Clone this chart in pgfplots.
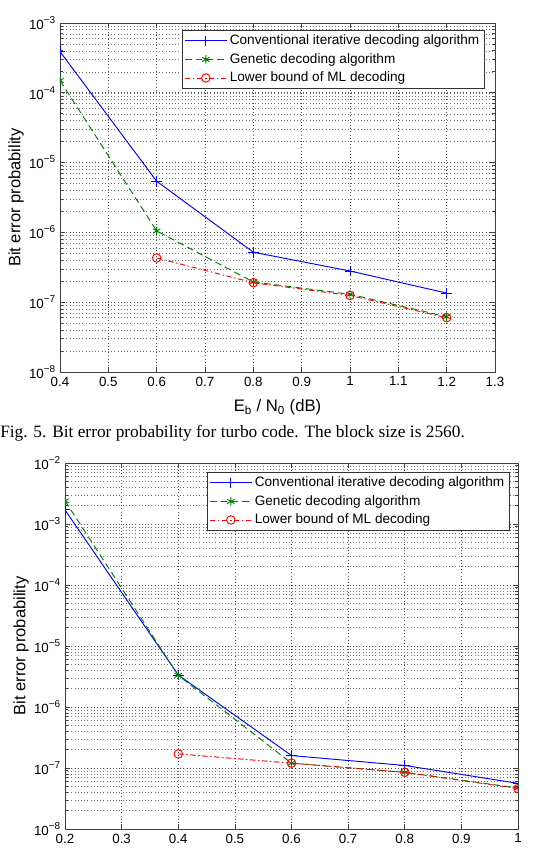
\documentclass[border=0pt]{standalone}
\usepackage{pgfplots}
\pgfplotsset{compat=1.18}
\usepackage{fontspec}
\setmainfont{Liberation Sans}
\newfontfamily\capfont{Liberation Serif}

\definecolor{mblue}{rgb}{0,0,1}
\definecolor{mgreen}{rgb}{0,0.5,0}
\definecolor{mred}{rgb}{1,0,0}

\newcommand{\dexp}[1]{10\raisebox{0.45em}{\fontsize{7.5}{8}\selectfont #1}}

\pgfplotsset{
  berstyle/.style={
    scale only axis,
    anchor=south west,
    clip marker paths=true,
    axis line style={black!75, line width=0.6pt},
    tick style={black!75, line width=0.5pt},
    major tick length=4pt,
    minor tick length=2pt,
    tick align=inside,
    xmajorgrids, ymajorgrids, yminorgrids,
    major grid style={black!70, dotted, line width=0.5pt},
    minor grid style={black!55, dotted, line width=0.4pt},
    tick label style={font=\fontsize{10}{11}\selectfont},
    ylabel style={font=\fontsize{12.4}{14}\selectfont, yshift=-3pt},
    xlabel style={font=\fontsize{12.5}{14}\selectfont, yshift=-3pt},
    ylabel={Bit error probability},
    xlabel={E\textsubscript{b} / N\textsubscript{0} (dB)},
    legend cell align=left,
    legend style={font=\fontsize{10.2}{12}\selectfont, draw=black!80, fill=white,
      line width=0.5pt, inner xsep=2pt, inner ysep=1.5pt, row sep=1pt,
      at={(1,1)}, anchor=north east},
    legend image code/.code={
      \draw[mark repeat=2,mark phase=2] plot coordinates {(0cm,0cm) (0.55cm,0cm) (1.1cm,0cm)};
    },
  },
  conv/.style={mblue, line width=0.7pt, mark=+, mark size=4pt, mark options={solid, line width=0.7pt}},
  gen/.style={mgreen, line width=0.7pt, dash pattern=on 5pt off 3pt, mark=asterisk, mark size=3.2pt, mark options={solid, line width=0.7pt}},
  lowb/.style={mred, line width=0.7pt, dash pattern=on 4pt off 2pt on 1pt off 2pt, mark=o, mark size=3.2pt, mark options={solid, line width=0.7pt}},
}

\begin{document}
\begin{tikzpicture}
% upper panel: block size 2560
\begin{semilogyaxis}[berstyle,
  at={(45pt,361.5pt)},
  width=326.25pt, height=261.75pt,
  xmin=0.4, xmax=1.3, ymin=1e-8, ymax=1e-3,
  xtick={0.4,0.5,0.6,0.7,0.8,0.9,1.0,1.1,1.2,1.3},
  xticklabels={0.4,0.5,0.6,0.7,0.8,0.9,1,1.1,1.2,1.3},
  ytick={1e-8,1e-7,1e-6,1e-5,1e-4,1e-3},
  yticklabels={\dexp{−8},\dexp{−7},\dexp{−6},\dexp{−5},\dexp{−4},\dexp{−3}},
  legend style={xshift=-7.5pt, yshift=-5.25pt},
]
\addplot[conv] coordinates {(0.4,3.9e-4) (0.6,5.4e-6) (0.8,5.2e-7) (1.0,2.8e-7) (1.2,1.35e-7)};
\addlegendentry{Conventional iterative decoding algorithm}
\addplot[gen] coordinates {(0.4,1.5e-4) (0.6,1.05e-6) (0.8,1.95e-7) (1.0,1.3e-7) (1.2,6.2e-8)};
\addlegendentry{Genetic decoding algorithm}
\addplot[lowb] coordinates {(0.6,4.3e-7) (0.8,1.9e-7) (1.0,1.25e-7) (1.2,6.0e-8)};
\addlegendentry{Lower bound of ML decoding}
\end{semilogyaxis}

\node[anchor=west, inner sep=0pt, font=\capfont\fontsize{13}{15}\selectfont] at (0pt,315.75pt)
  {Fig. 5. Bit error probability for turbo code. The block size is 2560.};

% lower panel
\begin{semilogyaxis}[berstyle,
  at={(48.75pt,18.75pt)},
  width=339.75pt, height=274.5pt,
  xmin=0.2, xmax=1.0, ymin=1e-8, ymax=1e-2,
  xtick={0.2,0.3,0.4,0.5,0.6,0.7,0.8,0.9,1.0},
  xticklabels={0.2,0.3,0.4,0.5,0.6,0.7,0.8,0.9,1},
  ytick={1e-8,1e-7,1e-6,1e-5,1e-4,1e-3,1e-2},
  yticklabels={\dexp{−8},\dexp{−7},\dexp{−6},\dexp{−5},\dexp{−4},\dexp{−3},\dexp{−2}},
  legend style={xshift=-6pt, yshift=-6.75pt},
]
\addplot[conv] coordinates {(0.2,1.7e-3) (0.4,3.35e-6) (0.6,1.6e-7) (0.8,1.1e-7) (1.0,5.6e-8)};
\addlegendentry{Conventional iterative decoding algorithm}
\addplot[gen] coordinates {(0.2,2.4e-3) (0.4,3.3e-6) (0.6,1.2e-7) (0.8,8.5e-8) (1.0,4.7e-8)};
\addlegendentry{Genetic decoding algorithm}
\addplot[lowb] coordinates {(0.4,1.7e-7) (0.6,1.2e-7) (0.8,8.5e-8) (1.0,4.6e-8)};
\addlegendentry{Lower bound of ML decoding}
\end{semilogyaxis}

\pgfresetboundingbox
\path (0pt,0pt) rectangle (400.5pt,640.5pt);
\end{tikzpicture}
\end{document}
